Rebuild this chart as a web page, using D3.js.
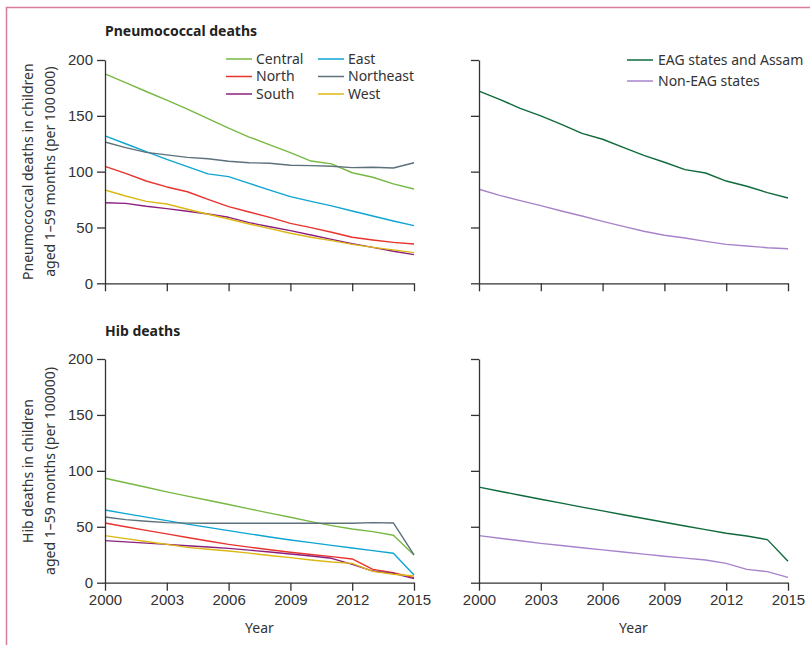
<!DOCTYPE html>
<html>
<head>
<meta charset="utf-8">
<script src="https://cdn.jsdelivr.net/npm/d3@7"></script>
<style>
  body { margin: 0; background: #fff; }
  svg { font-family: "Noto Sans", "DejaVu Sans", sans-serif; }
  .axis path, .axis line { stroke: #333; stroke-width: 1.3; }
  .axis text { fill: #333; font-size: 15px; }
</style>
</head>
<body>
<svg id="chart" width="810" height="645"></svg>
<script>
// Years on the x axis
const years = d3.range(2000, 2016);
const xTicks = [2000, 2003, 2006, 2009, 2012, 2015];
const yTicks = [0, 50, 100, 150, 200];

// Pneumococcal deaths per 100 000, by region
const pneuCentral = [187.5, 179.7, 171.8, 164, 156, 147.5, 139, 131, 124, 117, 109.5, 107, 99, 95, 89, 84.5];
const pneuEast = [132, 125, 118, 111, 104.5, 98, 95.5, 89.5, 83.5, 77.6, 73.4, 69.3, 64.8, 60.3, 55.8, 51.6];
const pneuNortheast = [126.6, 121.5, 117.3, 115, 112.8, 111.6, 109.3, 108, 107.5, 105.7, 105.4, 104.8, 103.6, 103.9, 103.3, 108];
const pneuNorth = [104.8, 98.5, 91.6, 86.3, 82, 75.2, 68.7, 63.9, 59.1, 53.7, 49.9, 45.7, 41.2, 38.8, 36.7, 35.2];
const pneuWest = [83.6, 78.2, 73.4, 71, 66.3, 61.8, 57.6, 53.1, 49, 44.8, 41.2, 38.2, 34.9, 32.2, 29.9, 27.5];
const pneuSouth = [72.2, 71.6, 69, 66.9, 64.5, 62.1, 59.1, 54.3, 50.7, 47.2, 43.3, 39.4, 35.5, 32.2, 28.7, 25.7];

// Pneumococcal deaths, EAG grouping
const pneuEag = [172.2, 164.8, 156.7, 149.9, 142.4, 134.3, 129, 121.8, 114.6, 108.4, 101.8, 98.8, 91.6, 86.9, 81.2, 76.4];
const pneuNonEag = [84.2, 78.8, 74, 69.6, 64.8, 60.3, 55.5, 51, 46.6, 43, 40.6, 37.6, 34.9, 33.4, 31.9, 31];

// Hib deaths per 100 000, by region
const hibCentral = [93.4, 89.4, 85.3, 81.2, 77.4, 73.7, 69.9, 66, 62.2, 58.5, 54.6, 51, 48, 45.7, 42.4, 24.8];
const hibEast = [65, 61.8, 58.6, 55.5, 52.4, 49.5, 46.6, 43.7, 40.9, 38.2, 35.8, 33.4, 31, 28.7, 26.3, 6.9];
const hibNortheast = [58.8, 56.4, 54.9, 53.7, 53.3, 53.2, 53.1, 53.1, 53.1, 53.1, 53.1, 53.1, 53.1, 53.7, 53.4, 24.8];
const hibNorth = [53.4, 50, 46.8, 43.6, 40.4, 37.3, 34.3, 31.8, 29.5, 27.2, 25.2, 23.3, 21.2, 11.9, 9, 4.5];
const hibWest = [42.1, 39.4, 36.8, 34.3, 31.6, 29.9, 28.4, 26.4, 24.3, 22.4, 20.3, 18.5, 17.3, 10.1, 7.5, 6];
const hibSouth = [37.6, 36.5, 35.4, 34.3, 33.1, 31.9, 30.7, 29.1, 27.4, 25.7, 23.9, 21.8, 16.4, 10.4, 8.4, 3.6];

// Hib deaths, EAG grouping
const hibEag = [85.4, 81.8, 78.2, 74.6, 71.1, 67.6, 64.2, 60.8, 57.4, 54, 50.7, 47.5, 44.2, 41.8, 38.5, 19.1];
const hibNonEag = [42.1, 39.8, 37.5, 35.2, 33.2, 31.3, 29.3, 27.4, 25.5, 23.6, 22, 20.3, 17.3, 11.9, 9.9, 4.8];

// Series names and colours
const regionNames = ["Central", "East", "North", "Northeast", "South", "West"];
const regionColors = ["#76b843", "#0ea5d2", "#e8332e", "#5c717b", "#8c1f7e", "#dcb814"];
const groupNames = ["EAG states and Assam", "Non-EAG states"];
const groupColors = ["#0e6a3b", "#a883cc"];

const svg = d3.select("#chart");

// Frame
svg.append("path")
  .attr("d", "M6.5,645 V7.5 H810")
  .attr("fill", "none")
  .attr("stroke", "#d97c99")
  .attr("stroke-width", 1.5);

const panels = [
  { x0: 105, x1: 414, y0: 283.3, y1: 60, labels: true, xlabels: false,
    series: [pneuCentral, pneuEast, pneuNorth, pneuNortheast, pneuSouth, pneuWest], colors: regionColors },
  { x0: 479, x1: 788, y0: 283.3, y1: 60, labels: false, xlabels: false,
    series: [pneuEag, pneuNonEag], colors: groupColors },
  { x0: 105, x1: 414, y0: 582.7, y1: 359, labels: true, xlabels: true,
    series: [hibCentral, hibEast, hibNorth, hibNortheast, hibSouth, hibWest], colors: regionColors },
  { x0: 479, x1: 788, y0: 582.7, y1: 359, labels: false, xlabels: true,
    series: [hibEag, hibNonEag], colors: groupColors }
];

panels.forEach(p => {
  const x = d3.scaleLinear().domain([2000, 2015]).range([p.x0, p.x1]);
  const y = d3.scaleLinear().domain([0, 200]).range([p.y0, p.y1]);

  const line = d3.line()
    .x((d, i) => x(years[i]))
    .y(d => y(d));

  p.series.forEach((s, i) => {
    svg.append("path")
      .datum(s)
      .attr("fill", "none")
      .attr("stroke", p.colors[i])
      .attr("stroke-width", 1.4)
      .attr("stroke-linejoin", "round")
      .attr("d", line);
  });

  svg.append("g")
    .attr("class", "axis")
    .attr("transform", `translate(${p.x0},0)`)
    .call(d3.axisLeft(y).tickValues(yTicks).tickSize(8).tickSizeOuter(0).tickPadding(4)
      .tickFormat(p.labels ? d3.format("d") : ""));

  svg.append("g")
    .attr("class", "axis")
    .attr("transform", `translate(0,${p.y0})`)
    .call(d3.axisBottom(x).tickValues(xTicks).tickSize(8).tickSizeOuter(0).tickPadding(4)
      .tickFormat(p.xlabels ? d3.format("d") : ""));

  if (p.xlabels) {
    svg.append("text")
      .attr("x", (p.x0 + p.x1) / 2)
      .attr("y", 633)
      .attr("text-anchor", "middle")
      .attr("fill", "#333")
      .style("font-size", "14px")
      .text("Year");
  }
});

// Panel titles
const titles = [["Pneumococcal deaths", 36], ["Hib deaths", 336]];
titles.forEach(t => {
  svg.append("text")
    .attr("x", 105).attr("y", t[1])
    .attr("fill", "#222")
    .style("font-size", "14px")
    .style("font-weight", "bold")
    .text(t[0]);
});

// Y axis labels
const yLabels = [
  [["Pneumococcal deaths in children", "aged 1–59 months (per 100\u2009000)"], 171.7],
  [["Hib deaths in children", "aged 1–59 months (per 100000)"], 471]
];
yLabels.forEach(l => {
  const g = svg.append("text")
    .attr("transform", `translate(33,${l[1]}) rotate(-90)`)
    .attr("text-anchor", "middle")
    .attr("fill", "#333")
    .style("font-size", "14px");
  l[0].forEach((s, i) => {
    g.append("tspan").attr("x", 0).attr("dy", i === 0 ? 0 : 22).text(s);
  });
});

// Legend: regions
const regionLegend = [
  ["Central", 226, 59], ["North", 226, 76.5], ["South", 226, 94],
  ["East", 318, 59], ["Northeast", 318, 76.5], ["West", 318, 94]
];
regionLegend.forEach(r => {
  const c = regionColors[regionNames.indexOf(r[0])];
  svg.append("line")
    .attr("x1", r[1]).attr("x2", r[1] + 26)
    .attr("y1", r[2]).attr("y2", r[2])
    .attr("stroke", c).attr("stroke-width", 1.5);
  svg.append("text")
    .attr("x", r[1] + 30).attr("y", r[2])
    .attr("dy", "0.35em")
    .attr("fill", "#333")
    .style("font-size", "14px")
    .text(r[0]);
});

// Legend: EAG grouping
groupNames.forEach((g, i) => {
  const yy = 60 + i * 21;
  svg.append("line")
    .attr("x1", 627).attr("x2", 653)
    .attr("y1", yy).attr("y2", yy)
    .attr("stroke", groupColors[i]).attr("stroke-width", 1.5);
  svg.append("text")
    .attr("x", 658).attr("y", yy)
    .attr("dy", "0.35em")
    .attr("fill", "#333")
    .style("font-size", "14px")
    .text(g);
});
</script>
</body>
</html>
